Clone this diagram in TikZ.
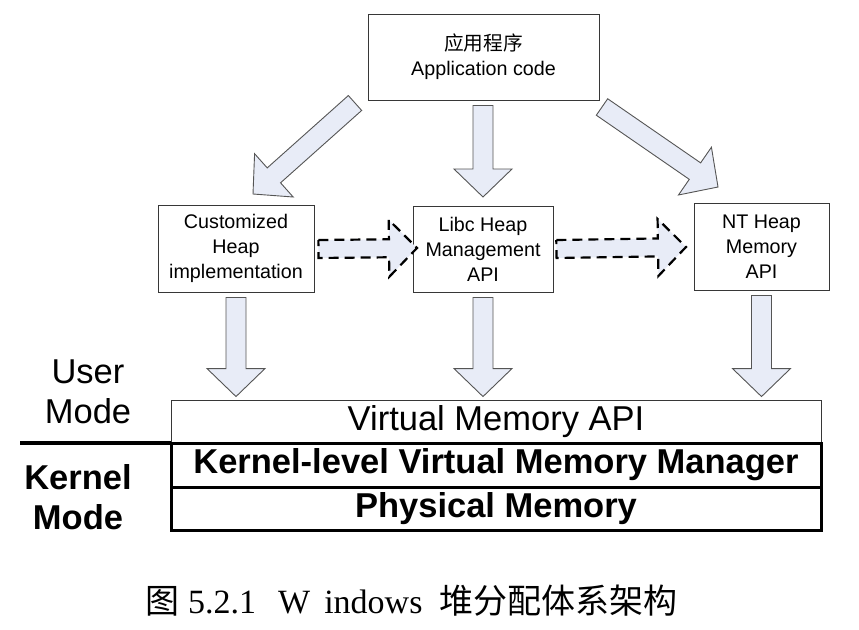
\documentclass[tikz,border=0pt]{standalone}
\usepackage{fontspec}
\setmainfont{Liberation Sans}
\newfontfamily\serifcap{Liberation Serif}
\newfontfamily\cjk{Noto Sans CJK SC}
\usetikzlibrary{calc}
\definecolor{arrfill}{RGB}{232,236,247}
\definecolor{arrline}{RGB}{85,85,85}
\definecolor{boxline}{RGB}{55,55,55}
% block arrow: [style]{shaft half width}{head half width}{start}{tip}
\newcommand\blockarr[5][]{%
  \coordinate (ba-c) at ($(#5)!28pt!(#4)$);
  \path[#1] ($(#4)!#2!90:(#5)$) -- ($(ba-c)!#2!90:(#5)$) -- ($(ba-c)!#3!90:(#5)$)
    -- (#5) -- ($(ba-c)!#3!-90:(#5)$) -- ($(ba-c)!#2!-90:(#5)$) -- ($(#4)!#2!-90:(#5)$) -- cycle;
}
\tikzset{
  box/.style={draw=boxline, line width=0.9pt, fill=white, align=center, inner sep=0pt,
              font=\fontsize{19.7}{25}\selectfont},
  thickbox/.style={draw=black, line width=3pt, inner sep=0pt, outer sep=0pt,
              font=\fontsize{34.5}{40}\selectfont\bfseries},
  solidarr/.style={fill=arrfill, draw=arrline, line width=0.9pt, line join=miter},
  dasharr/.style={fill=arrfill, draw=black, line width=2.2pt, dash pattern=on 10pt off 6pt},
  modelabel/.style={align=center, inner sep=0pt, font=\fontsize{34.5}{40}\selectfont},
}
\begin{document}
\begin{tikzpicture}[x=1pt,y=-1pt]
\useasboundingbox (0,0) rectangle (859,629);
\fill[white] (0,0) rectangle (859,629);

% boxes
\node[box, minimum width=231pt, minimum height=86pt] (app) at (483.5,57)
  {{\cjk 应用程序}\\Application code};
\node[box, minimum width=156pt, minimum height=87pt] (custom) at (236,248.5)
  {Customized\\Heap\\implementation};
\node[box, minimum width=140pt, minimum height=86pt] (libc) at (483,249)
  {Libc Heap\\Management\\API};
\node[box, minimum width=135pt, minimum height=87pt] (nt) at (761.5,246.5)
  {NT Heap\\Memory\\API};

\node[box, minimum width=650pt, minimum height=43pt, font=\fontsize{34.5}{40}\selectfont] (vm) at (496,421.5)
  {Virtual Memory API};
\node[thickbox, minimum width=650pt, minimum height=44pt] (kvm) at (496,465)
  {Kernel-level Virtual Memory Manager};
\node[thickbox, minimum width=650pt, minimum height=43pt] (phys) at (496,508.5)
  {Physical Memory};

% divider between user and kernel mode
\coordinate (divL) at (20,443);
\draw[line width=3.2pt] (divL) -- (kvm.north west);

% mode labels
\node[modelabel] (user) at (88,392) {User\\Mode};
\node[modelabel, font=\fontsize{34.5}{40}\selectfont\bfseries] (kern) at (78,497) {Kernel\\Mode};

% arrow end points
\coordinate (a1s) at (355,103);
\coordinate (a1e) at (253,194);
\coordinate (a2s) at ($(app.south)+(-0.5,5)$);
\coordinate (a2e) at (483,197);
\coordinate (a3s) at (602,107);
\coordinate (a3e) at (718,187);

\coordinate (b1s) at ($(custom.south)+(0,5)$);
\coordinate (b1e) at ($(custom.south |- vm.north)+(0,-3)$);
\coordinate (b2s) at ($(libc.south)+(0,5)$);
\coordinate (b2e) at ($(libc.south |- vm.north)+(0,-3)$);
\coordinate (b3s) at ($(nt.south)+(0,5)$);
\coordinate (b3e) at ($(nt.south |- vm.north)+(0,-3)$);

\coordinate (d1s) at ($(custom.east)+(4,0.5)$);
\coordinate (d1e) at (417,248);
\coordinate (d2s) at ($(libc.east)+(3,0)$);
\coordinate (d2e) at (686,247);

% solid block arrows
\blockarr[solidarr]{10pt}{29pt}{a1s}{a1e}
\blockarr[solidarr]{10pt}{29pt}{a2s}{a2e}
\blockarr[solidarr]{10pt}{29pt}{a3s}{a3e}
\blockarr[solidarr]{10pt}{29pt}{b1s}{b1e}
\blockarr[solidarr]{10pt}{29pt}{b2s}{b2e}
\blockarr[solidarr]{10pt}{29pt}{b3s}{b3e}

% dashed block arrows
\blockarr[dasharr]{9pt}{28.5pt}{d1s}{d1e}
\blockarr[dasharr]{9pt}{28.5pt}{d2s}{d2e}

% caption
\node[inner sep=0pt, anchor=west] (cap) at (145,601)
  {{\fontsize{34}{38}\selectfont\cjk 图}\hspace{9pt}{\fontsize{34}{38}\selectfont\serifcap 5.2.1\hspace{22pt}W\hspace{14pt}indows}\hspace{17pt}{\fontsize{34}{38}\selectfont\cjk 堆分配体系架构}};
\end{tikzpicture}
\end{document}
